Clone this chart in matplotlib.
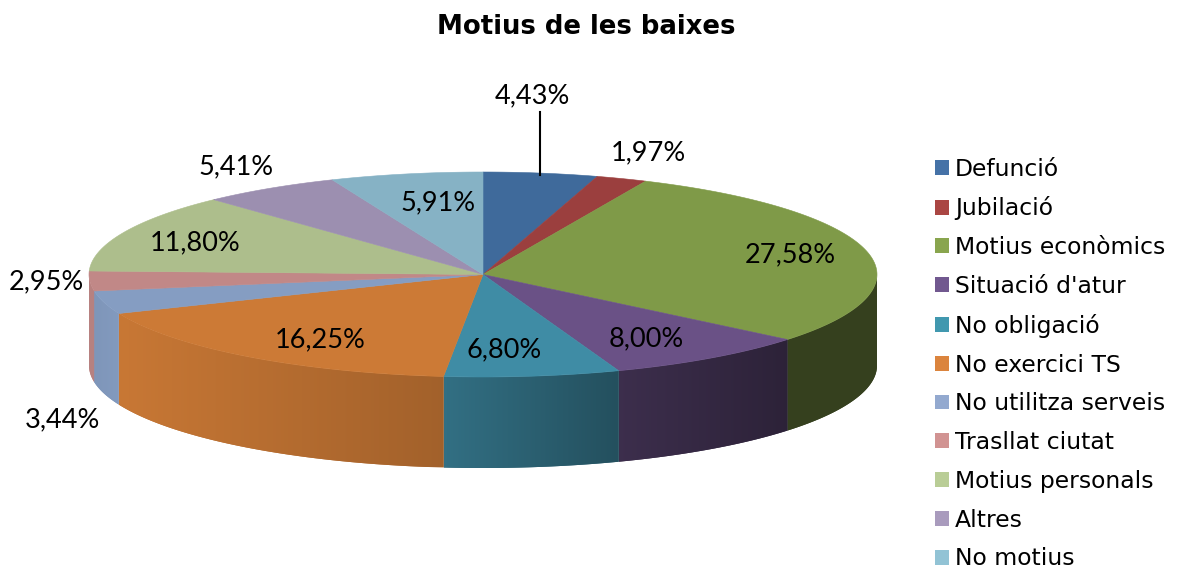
import numpy as np
import matplotlib
matplotlib.use('Agg')
import matplotlib.pyplot as plt
from matplotlib.patches import Patch, Polygon

categories = ['Defunció', 'Jubilació', 'Motius econòmics', "Situació d'atur", 'No obligació',
              'No exercici TS', 'No utilitza serveis', 'Trasllat ciutat', 'Motius personals',
              'Altres', 'No motius']
values = [4.43, 1.97, 27.58, 8.00, 6.80, 16.25, 3.44, 2.95, 11.80, 5.41, 5.91]
value_labels = ['4,43%', '1,97%', '27,58%', '8,00%', '6,80%', '16,25%', '3,44%', '2,95%', '11,80%', '5,41%', '5,91%']

legend_colors = ['#4572a7', '#aa4643', '#89a54e', '#71588f', '#4198af', '#db843d',
                 '#93a9cf', '#d19392', '#b9cd96', '#a99bbd', '#92c3d5']
top_colors = ['#3f6a9b', '#9b3f3e', '#7f9a48', '#6a5186', '#3f8ca5', '#cc7a36',
              '#859dc2', '#c18887', '#adbe8c', '#9c8fb0', '#86b2c5']
label_pos = [(532, 96), (648, 153), (790, 255), (646, 339), (504, 350), (320, 340),
             (62, 420), (46, 282), (195, 243), (236, 167), (438, 203)]

#pie geometry in pixels
cx, cy = 483, 274.5
rx, ry = 394, 102.5
depth = 91


def rim(theta):
    return cx + rx * np.sin(theta), cy - ry * np.cos(theta)


#side gets darker going left to right
def shade(x):
    return np.interp(x, [90, 118, 440, 619, 790, 877], [0.95, 0.98, 0.80, 0.57, 0.42, 0.42])


fig = plt.figure(figsize=(11.78, 5.71), dpi=100)
ax = fig.add_axes([0, 0, 1, 1])
ax.axis('off')

edges = np.cumsum([0] + values) / sum(values) * 2 * np.pi

#side of each slice, only the front half of the rim shows
for i in range(len(values)):
    start = max(edges[i], np.pi / 2)
    end = min(edges[i + 1], 3 * np.pi / 2)
    if end <= start:
        continue
    base = np.array(matplotlib.colors.to_rgb(top_colors[i]))
    t = np.linspace(start, end, 100)
    xs, ys = rim(t)
    pts = list(zip(xs, ys)) + list(zip(xs[::-1], ys[::-1] + depth))
    x0, x1 = xs.min(), xs.max()
    col_x = np.linspace(x0, x1, 64)
    ramp = base[None, None, :] * shade(col_x)[None, :, None]
    under = Polygon(pts, facecolor=base * shade((x0 + x1) / 2), edgecolor='none', zorder=1)
    ax.add_patch(under)
    clip = Polygon(pts, transform=ax.transData)
    im = ax.imshow(ramp, extent=(x0, x1, ys.max() + depth, ys.min()), aspect='auto',
                   interpolation='bilinear', zorder=2)
    im.set_clip_path(clip)

#top face
for i in range(len(values)):
    t = np.linspace(edges[i], edges[i + 1], 120)
    xs, ys = rim(t)
    pts = [(cx, cy)] + list(zip(xs, ys))
    ax.add_patch(Polygon(pts, facecolor=top_colors[i], edgecolor=top_colors[i], lw=0.4, zorder=3))

ax.set_xlim(0, 1178)
ax.set_ylim(571, 0)

#leader line for first label
ax.plot([540, 540], [112, 175], color='black', lw=1.5, zorder=4)

for txt, (x, y) in zip(value_labels, label_pos):
    ax.text(x, y, txt, ha='center', va='center', fontsize=19.5, family='Lato', color='black', zorder=5)

ax.text(586, 27, 'Motius de les baixes', ha='center', va='center', fontsize=18.75,
        fontweight='bold', family='DejaVu Sans')

handles = [Patch(facecolor=c, edgecolor='none') for c in legend_colors]
ax.legend(handles, categories, loc='center left', bbox_to_anchor=(935, 364),
          bbox_transform=ax.transData, frameon=False, ncol=1, prop={'family': 'DejaVu Sans', 'size': 16.9},
          handlelength=0.6, handleheight=0.6, handletextpad=0.25, labelspacing=0.672,
          borderpad=0, borderaxespad=0)

plt.savefig('out.png', dpi=100)
